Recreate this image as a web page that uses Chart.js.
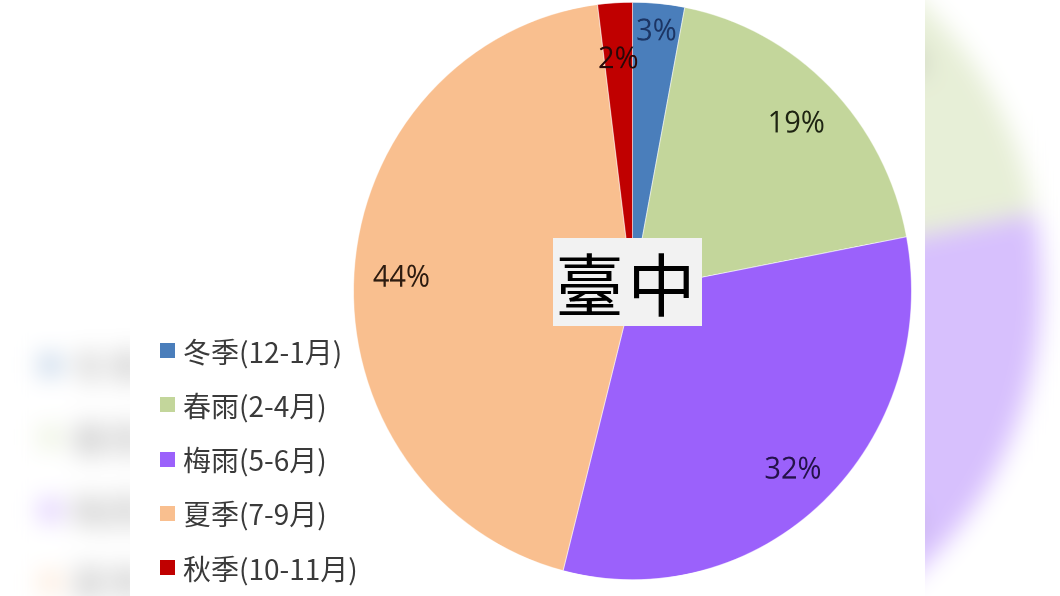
<!DOCTYPE html>
<html>
<head>
<meta charset="utf-8">
<script src="https://cdn.jsdelivr.net/npm/chart.js@4.4.1/dist/chart.umd.min.js"></script>
<style>
html,body{margin:0;padding:0;background:#fff;overflow:hidden;}
#stage{position:relative;width:1060px;height:596px;overflow:hidden;background:#fff;}
.panel{position:absolute;left:130px;top:0;width:795px;height:596px;background:#fff;overflow:hidden;}
#bg{transform-origin:390px 307px;transform:scale(1.333);filter:blur(9px);opacity:0.4;}
.pie{position:absolute;left:0;top:0;width:795px;height:576px;transform-origin:0 0;transform:scaleY(1.0347);}
.legend{position:absolute;left:30px;top:323.4px;font-family:"Noto Sans CJK TC","Noto Sans",sans-serif;font-size:28px;color:#3a3a3a;}
.legend .row{height:54.25px;display:flex;align-items:center;white-space:nowrap;}
.legend .sw{width:15px;height:15px;margin-right:8px;flex:none;}
.legend .tx{line-height:1;}
.tag{position:absolute;left:423px;top:238px;width:149px;height:88px;background:#f2f2f2;display:flex;align-items:center;justify-content:center;font-family:"Noto Sans CJK TC",sans-serif;font-size:68px;color:#000;line-height:1;letter-spacing:4px;}
</style>
</head>
<body>
<div id="stage">
  <div class="panel" id="bg"></div>
  <div class="panel" id="fg"></div>
</div>
<script>
// ---- data ----
const categories = ['冬季(12-1月)', '春雨(2-4月)', '梅雨(5-6月)', '夏季(7-9月)', '秋季(10-11月)'];
const shares = [3, 19, 32, 44, 2];
const cityLabel = '臺中';

// ---- styles ----
const sliceColors = ['#4a7ebb', '#c3d69b', '#9b61fb', '#f9bf8f', '#c00000'];
const labelColors = ['#1c3564', '#1e2412', '#24124a', '#2e1c10', '#2a0808'];
const labelRadial = [0.91, 0.83, 0.84, 0.83, 0.81];

const pctLabels = {
  id: 'pctLabels',
  afterDatasetsDraw(chart, args, opts) {
    const ctx = chart.ctx;
    const meta = chart.getDatasetMeta(0);
    const total = shares.reduce((a, b) => a + b, 0);
    ctx.save();
    ctx.font = '29px "Open Sans", "DejaVu Sans", sans-serif';
    ctx.textAlign = 'center';
    ctx.textBaseline = 'alphabetic';
    meta.data.forEach((arc, i) => {
      const p = arc.getProps(['x', 'y', 'startAngle', 'endAngle', 'outerRadius'], true);
      const a = (p.startAngle + p.endAngle) / 2;
      const r = p.outerRadius * labelRadial[i];
      ctx.fillStyle = labelColors[i];
      const txt = Math.round(shares[i] / total * 100) + '%';
      ctx.fillText(txt, p.x + Math.cos(a) * r, p.y + Math.sin(a) * r + 10.4);
    });
    ctx.restore();
  }
};

function build(panel) {
  const pieWrap = document.createElement('div');
  pieWrap.className = 'pie';
  const canvas = document.createElement('canvas');
  canvas.width = 795; canvas.height = 576;
  canvas.style.width = '795px'; canvas.style.height = '576px';
  pieWrap.appendChild(canvas);
  panel.appendChild(pieWrap);

  new Chart(canvas, {
    type: 'pie',
    data: {
      labels: categories,
      datasets: [{
        data: shares,
        backgroundColor: sliceColors,
        borderColor: 'rgba(255,255,255,0.55)',
        borderWidth: 1,
        hoverOffset: 0
      }]
    },
    options: {
      responsive: false,
      animation: false,
      devicePixelRatio: 2,
      layout: { padding: { left: 223, right: 13, top: 1.7, bottom: 15.3 } },
      plugins: { legend: { display: false }, tooltip: { enabled: false } },
      events: []
    },
    plugins: [pctLabels]
  });

  const legend = document.createElement('div');
  legend.className = 'legend';
  categories.forEach((c, i) => {
    const row = document.createElement('div');
    row.className = 'row';
    const sw = document.createElement('span');
    sw.className = 'sw';
    sw.style.background = sliceColors[i];
    const tx = document.createElement('span');
    tx.className = 'tx';
    tx.textContent = c;
    row.appendChild(sw); row.appendChild(tx);
    legend.appendChild(row);
  });
  panel.appendChild(legend);

  const tag = document.createElement('div');
  tag.className = 'tag';
  tag.textContent = cityLabel;
  panel.appendChild(tag);
}

build(document.getElementById('bg'));
build(document.getElementById('fg'));
</script>
</body>
</html>
